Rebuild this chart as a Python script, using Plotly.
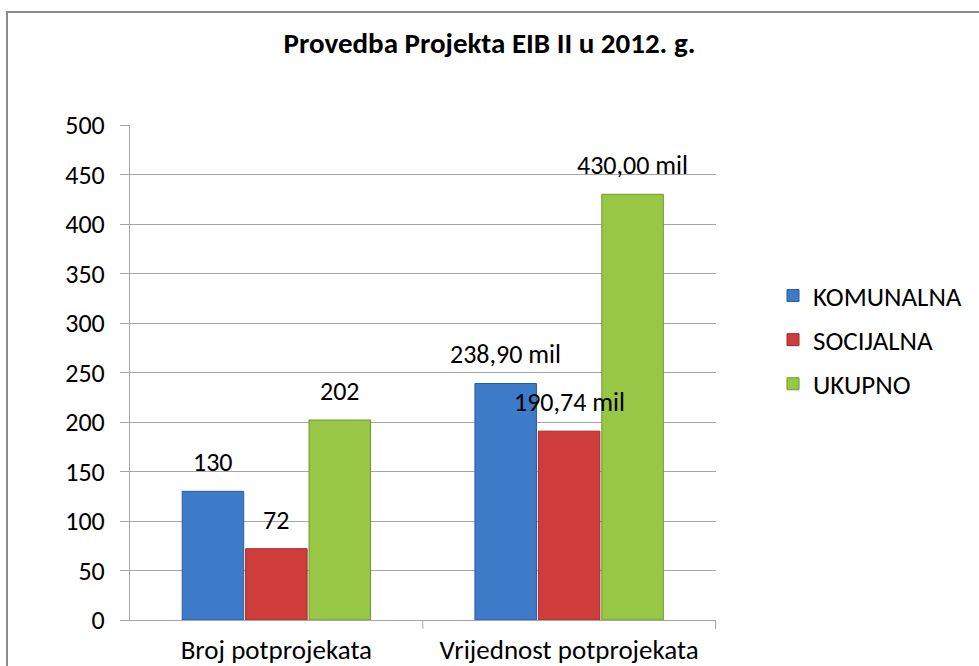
import plotly.graph_objects as go

categories = ["Broj potprojekata", "Vrijednost potprojekata"]
series_names = ["KOMUNALNA", "SOCIJALNA", "UKUPNO"]
komunalna = [130, 238.90]
socijalna = [72, 190.74]
ukupno = [202, 430.00]
komunalna_labels = ["130", "238,90 mil"]
socijalna_labels = ["72", "190,74 mil"]
ukupno_labels = ["202", "430,00 mil"]
y_ticks = [0, 50, 100, 150, 200, 250, 300, 350, 400, 450, 500]

colors = ["#3D7AC8", "#CF3C3C", "#97C744"]
edge_colors = ["#2B5C9C", "#9E2A2A", "#6F9631"]
FONT = "Carlito, Lato, 'Liberation Sans', sans-serif"

PLOT_W = 586
group_slot = PLOT_W / len(categories) * (1 - 0.35) / len(series_names)

fig = go.Figure()
all_vals = [komunalna, socijalna, ukupno]
all_labels = [komunalna_labels, socijalna_labels, ukupno_labels]
for i, (name, vals, labels, c, ec) in enumerate(zip(series_names, all_vals, all_labels,
                                                    colors, edge_colors)):
    fig.add_trace(go.Bar(
        name=name, x=categories, y=vals,
        marker=dict(color=c, line=dict(color=ec, width=1)),
        legendgroup=name, hoverinfo="x+y",
    ))
    for cat, v, lab in zip(categories, vals, labels):
        fig.add_annotation(x=cat, y=v, text=lab, showarrow=False, xref="x", yref="y",
                           xanchor="center", yanchor="bottom",
                           xshift=(i - 1) * group_slot, yshift=11,
                           font=dict(size=26, family=FONT, color="#000000"))

fig.update_layout(
    width=979, height=666,
    paper_bgcolor="white", plot_bgcolor="white",
    font=dict(family=FONT, size=26, color="#000000"),
    margin=dict(l=130, r=263, t=125, b=46, autoexpand=False),
    barmode="group", bargap=0.35, bargroupgap=0.03,
    title=dict(text="<b>Provedba Projekta EIB II u 2012. g.</b>", x=0.5, xref="container",
               xanchor="center", y=1 - 43 / 666, yref="container", yanchor="middle",
               font=dict(size=29, family=FONT, color="#000000")),
    legend=dict(x=773 / 979, y=1 - 340 / 666, xref="container", yref="container",
                xanchor="left", yanchor="middle",
                font=dict(size=27, family=FONT), tracegroupgap=6,
                itemwidth=30, bgcolor="rgba(0,0,0,0)"),
    showlegend=True,
)
fig.update_yaxes(range=[0, 500], tickvals=y_ticks, showgrid=True, gridcolor="#A6A6A6",
                 gridwidth=1, showline=True, linecolor="#A6A6A6", linewidth=1,
                 ticks="outside", ticklen=9, tickcolor="#A6A6A6", zeroline=False,
                 tickfont=dict(size=26), ticklabelstandoff=10)
fig.update_xaxes(showline=True, linecolor="#A6A6A6", linewidth=1, ticks="",
                 tickfont=dict(size=27), ticklabelstandoff=6)
# category divider tick marks on x axis
for xb in [0.5, 1.5]:
    fig.add_shape(type="line", xref="x", yref="paper", x0=xb, x1=xb, y0=0, y1=-0.018,
                  line=dict(color="#A6A6A6", width=1))
# outer chart border
fig.add_shape(type="rect", xref="paper", yref="paper",
              x0=(7 - 130) / 586, x1=1.6, y0=-0.3, y1=(620 - 12) / 495,
              line=dict(color="#8C8C8C", width=2), fillcolor="rgba(0,0,0,0)", layer="below")

fig.write_html("out.html", config={"displayModeBar": False},
               post_script="document.body.style.margin='0px';")
